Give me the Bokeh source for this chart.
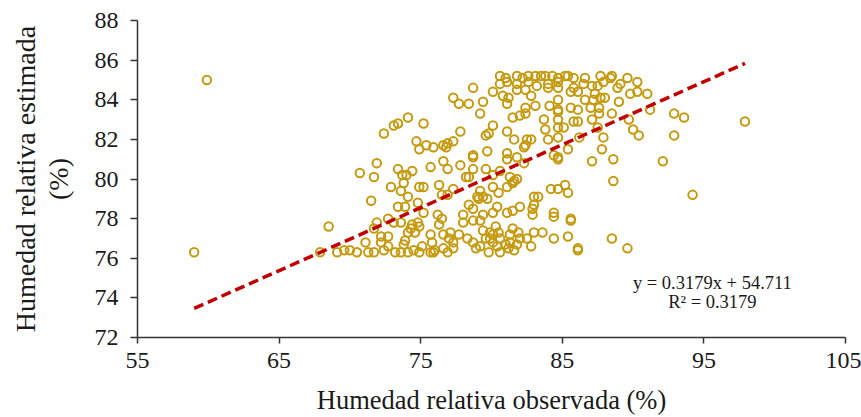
from bokeh.plotting import figure
from bokeh.models import FixedTicker, Label, Range1d
from bokeh.embed import file_html
from bokeh.resources import INLINE

# Observed relative humidity (%)
obs = [59.0, 59.9, 97.9,
       74.1, 73.4, 73.1, 72.4, 74.7, 74.9, 71.9, 70.7, 71.7, 73.4, 73.7, 74.0, 74.4, 73.8, 72.9, 73.6, 71.5, 74.1, 74.9,
       73.4, 73.9, 74.8, 68.5, 71.9, 71.7, 72.7, 73.1, 73.6, 74.4, 74.8, 74.6, 74.1, 74.3, 72.2, 72.7, 73.9, 71.1, 72.2,
       67.9, 69.1, 69.6, 70.0, 70.5, 71.3, 71.7, 72.4, 72.7, 73.2, 73.6, 74.1, 74.5, 74.9, 73.8,
       80.6, 81.0, 81.8, 82.2, 82.6, 83.1, 83.5, 83.8, 84.3, 84.7, 80.6, 81.1, 81.8, 82.6, 83.2, 84.0, 84.7, 84.0, 84.7,
       78.7, 80.1, 77.3, 77.7, 78.4, 79.4, 79.2, 80.8, 81.2, 81.1, 81.8, 82.4, 82.8, 82.4, 83.1, 82.4, 82.0, 81.5, 84.1,
       84.7, 84.7, 83.7, 83.8, 84.7, 84.0, 84.7, 75.2, 77.8, 79.6, 79.8, 80.1, 81.1, 81.6, 82.5, 82.8, 82.4, 82.3, 75.4,
       75.9, 76.6, 76.9, 77.3, 76.8, 79.7, 78.7, 78.7, 81.1, 81.1, 81.8, 82.3, 76.6, 75.7, 76.9, 77.8, 78.7, 79.6, 78.2,
       78.4, 80.1, 80.6, 81.3, 81.6, 81.8, 81.1, 81.5, 75.2, 76.3, 77.3, 79.2, 80.1, 80.5, 83.0, 84.2, 84.7, 79.0, 79.4,
       76.5, 76.9,
       83.3, 75.2, 76.2, 76.5, 76.3, 74.9, 78.0, 78.0, 78.4, 78.7, 79.1, 79.7, 79.4, 78.7, 79.2, 80.1, 80.4, 81.1, 81.5,
       82.0, 82.9, 82.9, 83.0, 84.4, 79.4, 79.9, 80.3, 80.5, 81.5, 81.3, 81.9, 82.0, 82.5, 83.0, 83.6, 82.8, 75.7, 75.8,
       76.6, 77.1, 77.7, 77.0, 77.3, 77.3, 76.6, 76.9, 76.0, 75.9, 75.7, 75.1, 78.3, 78.7, 79.2, 78.9, 79.6, 79.8, 80.1,
       80.4, 80.6, 80.6, 81.0, 81.2, 81.3, 81.6, 81.8, 79.9, 80.1,
       92.9, 93.6, 92.9, 92.1, 94.2, 88.6, 88.6, 87.1, 87.8, 87.9, 90.0, 90.4, 89.7, 91.2, 91.0, 90.3, 90.3, 89.8, 89.6,
       89.1, 88.9, 89.0, 88.5, 88.4, 88.5, 87.7, 87.9, 87.5, 87.3, 87.2, 87.7, 88.0, 87.6, 87.0, 86.6, 86.5, 86.6, 87.1,
       87.6, 87.1, 87.5, 86.2, 85.4, 84.7, 84.7, 84.4, 85.1, 85.8, 86.1, 84.7, 84.7, 85.6, 86.1, 85.6, 86.1, 85.2, 85.4,
       85.8, 85.8, 85.2, 85.4,
       84.4, 85.6, 85.6, 84.4, 85.4, 86.1, 86.1, 88.5, 89.6]

# Estimated relative humidity (%)
est = [76.3, 85.0, 82.9,
       83.1, 82.8, 82.7, 82.3, 81.9, 81.5, 80.8, 80.3, 80.1, 80.5, 80.2, 80.2, 80.4, 79.8, 79.6, 79.4, 78.9, 79.1, 79.6,
       78.6, 78.6, 78.8, 77.6, 77.8, 77.5, 78.0, 77.8, 77.8, 77.7, 77.8, 77.3, 77.3, 77.5, 77.1, 77.1, 76.9, 76.8, 76.8,
       76.3, 76.3, 76.4, 76.4, 76.3, 76.3, 76.3, 76.4, 76.6, 76.3, 76.3, 76.3, 76.4, 76.3, 76.7,
       85.2, 85.1, 85.2, 85.1, 85.2, 85.2, 85.2, 85.2, 85.2, 85.1, 84.8, 84.9, 84.8, 84.9, 84.7, 84.8, 84.9, 84.6, 84.6,
       84.6, 84.4, 84.1, 83.8, 83.8, 83.9, 83.3, 84.2, 84.1, 83.8, 84.5, 84.5, 84.2, 83.6, 83.7, 83.3, 83.2, 83.1, 83.7,
       84.0, 83.5, 83.0, 82.5, 82.6, 82.0, 82.1, 82.8, 82.4, 82.2, 82.3, 82.7, 82.4, 82.0, 82.0, 82.0, 81.7, 81.6, 81.7,
       81.6, 81.7, 81.8, 81.9, 81.6, 81.4, 81.2, 81.1, 81.3, 81.0, 81.1, 80.8, 80.9, 80.6, 80.5, 80.7, 80.5, 80.5, 80.1,
       80.1, 80.2, 80.4, 80.1, 79.9, 80.0, 79.6, 79.8, 79.6, 79.7, 79.5, 79.4, 79.6, 79.3, 79.1, 79.5, 79.5, 79.1, 79.1,
       79.2, 79.2,
       79.1, 78.3, 78.2, 78.0, 77.7, 77.6, 78.2, 77.8, 78.7, 78.5, 79.0, 79.0, 78.2, 77.9, 77.9, 78.3, 78.6, 78.3, 78.4,
       78.6, 78.5, 78.2, 78.7, 78.1, 77.4, 77.3, 77.6, 77.3, 77.5, 77.2, 77.3, 77.0, 77.0, 77.3, 77.3, 76.6, 77.2, 76.8,
       77.2, 77.3, 77.2, 77.0, 76.8, 76.5, 76.5, 76.3, 76.4, 76.3, 76.3, 76.6, 77.0, 76.8, 76.6, 76.5, 77.0, 76.3, 76.8,
       76.6, 77.0, 76.3, 76.7, 76.5, 76.8, 76.4, 76.7, 77.0, 77.2,
       83.3, 83.1, 82.2, 80.9, 79.2, 79.9, 81.0, 80.9, 81.5, 82.1, 82.5, 82.2, 83.0, 83.5, 84.3, 84.9, 84.4, 84.3, 85.1,
       84.8, 84.6, 83.9, 83.3, 85.1, 85.2, 85.2, 84.9, 84.7, 84.3, 84.0, 84.1, 84.1, 83.6, 83.6, 84.0, 84.8, 85.1, 84.7,
       83.3, 83.0, 82.6, 82.1, 81.5, 81.1, 81.0, 81.2, 82.6, 82.9, 82.9, 83.0, 83.4, 83.6, 83.5, 84.4, 84.4, 85.2, 85.2,
       85.1, 84.6, 79.7, 79.3,
       78.3, 78.0, 77.9, 77.0, 77.1, 76.5, 76.4, 77.0, 76.5]

slope = 0.3179
intercept = 54.711
x_ticks = [55, 65, 75, 85, 95, 105]
y_ticks = [72, 74, 76, 78, 80, 82, 84, 86, 88]
x_title = "Humedad relativa observada (%)"
y_title = "Humedad relativa estimada\n(%)"

FONT = "Liberation Serif"
TXT = "#1a1a1a"

p = figure(width=861, height=417, output_backend="svg", toolbar_location=None,
           x_range=Range1d(55, 105), y_range=Range1d(72, 88),
           min_border_left=137, min_border_right=16, min_border_top=20, min_border_bottom=79)
p.outline_line_color = None
p.grid.visible = False
p.background_fill_color = "white"
p.border_fill_color = "white"

p.scatter(obs, est, marker="circle", size=8.5, fill_color=None,
          line_color="#C59A0E", line_width=2)

xs = [min(obs), max(obs)]
ys = [slope * v + intercept for v in xs]
p.line(xs, ys, line_color="#C00000", line_width=3.5, line_dash="10 5")

for ax in (p.xaxis[0], p.yaxis[0]):
    ax.axis_line_color = "#333333"
    ax.axis_line_width = 1.5
    ax.major_tick_line_color = "#333333"
    ax.major_tick_line_width = 1.5
    ax.major_tick_in = 0
    ax.minor_tick_line_color = None
    ax.major_label_text_font = FONT
    ax.major_label_text_font_size = "24px"
    ax.major_label_text_color = TXT
    ax.axis_label_text_font = FONT
    ax.axis_label_text_font_style = "normal"
    ax.axis_label_text_color = TXT

p.xaxis.ticker = FixedTicker(ticks=x_ticks)
p.yaxis.ticker = FixedTicker(ticks=y_ticks)
p.xaxis.major_tick_out = 6
p.yaxis.major_tick_out = 7
p.xaxis.major_label_standoff = 9
p.yaxis.major_label_standoff = 12

p.xaxis.axis_label = x_title
p.xaxis.axis_label_text_font_size = "26.5px"
p.xaxis.axis_label_standoff = 14
p.yaxis.axis_label = y_title
p.yaxis.axis_label_text_font_size = "28px"
p.yaxis.axis_label_text_line_height = 1.05
p.yaxis.axis_label_standoff = 18

p.add_layout(Label(x=95.6, y=74.77, text=f"y = {slope}x + {intercept}",
                   text_font=FONT, text_font_size="18.5px", text_color=TXT,
                   text_align="center", text_baseline="middle"))
p.add_layout(Label(x=95.6, y=73.8, text=f"R² = {slope}",
                   text_font=FONT, text_font_size="18.5px", text_color=TXT,
                   text_align="center", text_baseline="middle"))

open("out.html", "w").write(file_html(p, INLINE))
